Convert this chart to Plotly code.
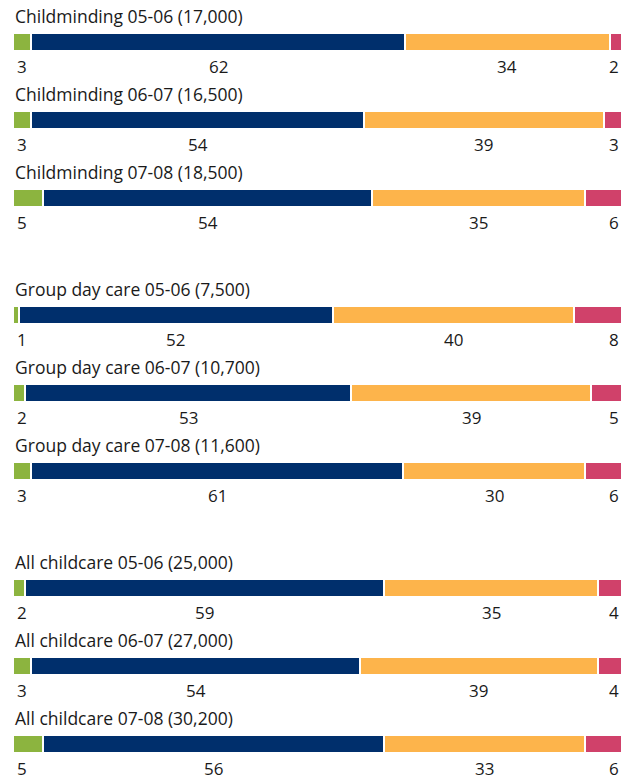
import plotly.graph_objects as go

categories = [
    "Childminding 05-06 (17,000)", "Childminding 06-07 (16,500)", "Childminding 07-08 (18,500)",
    "Group day care 05-06 (7,500)", "Group day care 06-07 (10,700)", "Group day care 07-08 (11,600)",
    "All childcare 05-06 (25,000)", "All childcare 06-07 (27,000)", "All childcare 07-08 (30,200)",
]
series_a = [3, 3, 5, 1, 2, 3, 2, 3, 5]        # green
series_b = [62, 54, 54, 52, 53, 61, 59, 54, 56]  # navy
series_c = [34, 39, 35, 40, 39, 30, 35, 39, 33]  # yellow
series_d = [2, 3, 6, 8, 5, 6, 4, 4, 6]          # pink

colors = ["#8CB43F", "#002F6C", "#FDB44B", "#D0416A"]
series = [series_a, series_b, series_c, series_d]

n = len(categories)
# layout positions: groups of three with an extra half-row gap
ypos = [(i // 3) * 3.5 + (i % 3) for i in range(n)]
totals = [sum(s[i] for s in series) for i in range(n)]

fig = go.Figure()
for s, c in zip(series, colors):
    fig.add_trace(go.Bar(
        x=[v / t * 100 for v, t in zip(s, totals)],
        y=ypos, orientation="h", width=0.235,
        marker=dict(color=c, line=dict(color="white", width=2)),
        hoverinfo="skip", showlegend=False,
    ))

font_t = dict(family="Open Sans, Noto Sans, sans-serif", size=17.5, color="#1a1a1a")
font_n = dict(family="Open Sans, Noto Sans, sans-serif", size=17, color="#1a1a1a")
ann = []
for i in range(n):
    y = ypos[i]
    ann.append(dict(x=0, y=y - 0.335, xref="x", yref="y", text=categories[i],
                    showarrow=False, xanchor="left", yanchor="middle", font=font_t))
    vals = [s[i] for s in series]
    widths = [v / totals[i] * 100 for v in vals]
    start = 0
    for k, (v, w) in enumerate(zip(vals, widths)):
        if k == 0:
            x, xa, xs = 0, "left", 2
        elif k == len(vals) - 1:
            x, xa, xs = 100, "right", -1
        else:
            x, xa, xs = start + w / 2, "center", 0
        ann.append(dict(x=x, y=y + 0.31, xref="x", yref="y", text=str(v), xshift=xs,
                        showarrow=False, xanchor=xa, yanchor="middle", font=font_n))
        start += w

H = 790
fig.update_layout(
    barmode="stack", width=616, height=H,
    margin=dict(l=5, r=2, t=0, b=0),
    paper_bgcolor="white", plot_bgcolor="white",
    xaxis=dict(range=[0, 100], visible=False, fixedrange=True),
    yaxis=dict(range=[(H - 34) / 78, -34 / 78], visible=False, fixedrange=True),
    annotations=ann, bargap=0,
)
fig.write_html("out.html")
